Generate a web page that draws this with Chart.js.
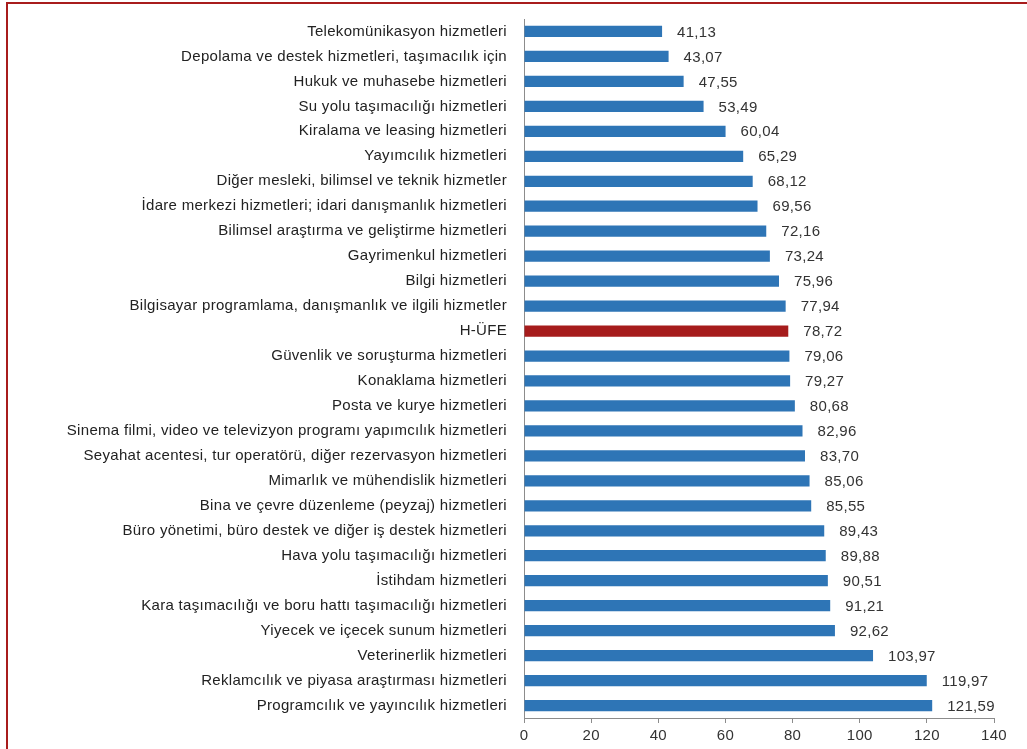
<!DOCTYPE html>
<html lang="tr">
<head>
<meta charset="utf-8">
<title>Hizmet üretici fiyat endeksi</title>
<script src="https://cdn.jsdelivr.net/npm/chart.js@4"></script>
<style>
  html, body { margin: 0; padding: 0; background: #fff; }
  #wrap { position: relative; width: 1027px; height: 749px; }
  #frame {
    position: absolute; left: 6px; top: 2px; right: 0; bottom: -10px;
    border-left: 2px solid #a81c1c; border-top: 2px solid #a81c1c;
    pointer-events: none;
  }
</style>
</head>
<body>
<div id="wrap">
  <canvas id="ufeChart" width="1027" height="749"></canvas>
  <div id="frame"></div>
</div>
<script>
// Kategoriler ve yıllık değişim oranları (%)
const categories = [
  'Telekomünikasyon hizmetleri',
  'Depolama ve destek hizmetleri, taşımacılık için',
  'Hukuk ve muhasebe hizmetleri',
  'Su yolu taşımacılığı hizmetleri',
  'Kiralama ve leasing hizmetleri',
  'Yayımcılık hizmetleri',
  'Diğer mesleki, bilimsel ve teknik hizmetler',
  'İdare merkezi hizmetleri; idari danışmanlık hizmetleri',
  'Bilimsel araştırma ve geliştirme hizmetleri',
  'Gayrimenkul hizmetleri',
  'Bilgi hizmetleri',
  'Bilgisayar programlama, danışmanlık ve ilgili hizmetler',
  'H-ÜFE',
  'Güvenlik ve soruşturma hizmetleri',
  'Konaklama hizmetleri',
  'Posta ve kurye hizmetleri',
  'Sinema filmi, video ve televizyon programı yapımcılık hizmetleri',
  'Seyahat acentesi, tur operatörü, diğer rezervasyon hizmetleri',
  'Mimarlık ve mühendislik hizmetleri',
  'Bina ve çevre düzenleme (peyzaj) hizmetleri',
  'Büro yönetimi, büro destek ve diğer iş destek hizmetleri',
  'Hava yolu taşımacılığı hizmetleri',
  'İstihdam hizmetleri',
  'Kara taşımacılığı ve boru hattı taşımacılığı hizmetleri',
  'Yiyecek ve içecek sunum hizmetleri',
  'Veterinerlik hizmetleri',
  'Reklamcılık ve piyasa araştırması hizmetleri',
  'Programcılık ve yayıncılık hizmetleri'
];
const values = [
  41.13, 43.07, 47.55, 53.49, 60.04, 65.29, 68.12, 69.56, 72.16, 73.24,
  75.96, 77.94, 78.72, 79.06, 79.27, 80.68, 82.96, 83.70, 85.06, 85.55,
  89.43, 89.88, 90.51, 91.21, 92.62, 103.97, 119.97, 121.59
];
const xTicks = [0, 20, 40, 60, 80, 100, 120, 140];
const highlight = 'H-ÜFE';

const BLUE = '#2e75b6';
const RED  = '#a61c1c';
const FONT = '"Liberation Sans", Arial, sans-serif';
const fmt = v => v.toFixed(2).replace('.', ',');

// Etiketler biraz daha geniş aralıklı
const spacing = {
  id: 'spacing',
  beforeDraw(chart) { chart.ctx.letterSpacing = '0.3px'; }
};

// Çubuk sonuna değer etiketleri
const valueLabels = {
  id: 'valueLabels',
  afterDatasetsDraw(chart) {
    const ctx = chart.ctx;
    const meta = chart.getDatasetMeta(0);
    ctx.save();
    ctx.font = '15px ' + FONT;
    ctx.fillStyle = '#333';
    ctx.textBaseline = 'middle';
    ctx.textAlign = 'left';
    meta.data.forEach((bar, i) => {
      ctx.fillText(fmt(values[i]), bar.x + 15, bar.y + 1);
    });
    ctx.restore();
  }
};

new Chart(document.getElementById('ufeChart'), {
  type: 'bar',
  data: {
    labels: categories,
    datasets: [{
      data: values,
      backgroundColor: categories.map(c => c === highlight ? RED : BLUE),
      barPercentage: 0.9,
      categoryPercentage: 0.5
    }]
  },
  options: {
    indexAxis: 'y',
    responsive: false,
    animation: false,
    layout: { padding: { left: 4, right: 33, top: 19, bottom: 0 } },
    plugins: { legend: { display: false }, tooltip: { enabled: false } },
    scales: {
      x: {
        min: 0, max: 140,
        afterBuildTicks: s => { s.ticks = xTicks.map(v => ({ value: v })); },
        afterFit: s => { s.height = 31; },
        grid: { drawOnChartArea: false, drawTicks: true, tickLength: 5, color: '#8c8c8c' },
        border: { color: '#8c8c8c' },
        ticks: {
          color: '#333',
          padding: 4,
          font: { family: FONT, size: 15 }
        }
      },
      y: {
        afterFit: s => { s.width = 520; s.paddingTop = 0; s.paddingBottom = 0; },
        grid: { display: false, drawTicks: false },
        border: { display: true, color: '#8c8c8c' },
        ticks: {
          color: '#222',
          padding: 17,
          autoSkip: false,
          font: { family: FONT, size: 15 }
        }
      }
    }
  },
  plugins: [spacing, valueLabels]
});
</script>
</body>
</html>
